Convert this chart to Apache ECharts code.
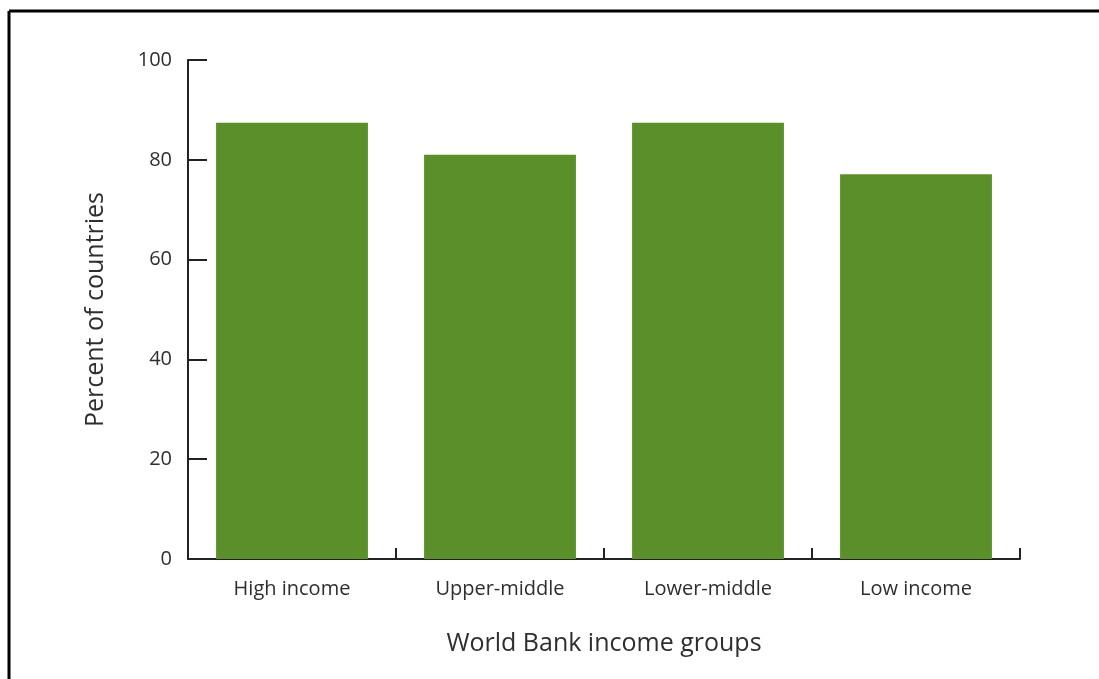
<!DOCTYPE html>
<html>
<head>
<meta charset="utf-8">
<script src="https://cdn.jsdelivr.net/npm/echarts@6/dist/echarts.min.js"></script>
<style>html,body{margin:0;padding:0;background:#fff}#c{width:1099px;height:679px}</style>
</head>
<body>
<div id="c"></div>
<script>
const categories = ["High income", "Upper-middle", "Lower-middle", "Low income"];
const percentValues = [87.4, 81.0, 87.4, 77.1];
const yTicks = [0, 20, 40, 60, 80, 100];

const chart = echarts.init(document.getElementById('c'));
const font = "'Open Sans', Lato, sans-serif";
chart.setOption({
  animation: false,
  backgroundColor: '#fff',
  grid: {left: 188, right: 79, top: 60, bottom: 120, containLabel: false},
  graphic: [
    {type: 'line', shape: {x1: 9, y1: 11, x2: 1099, y2: 11}, style: {stroke: '#000', lineWidth: 3}},
    {type: 'line', shape: {x1: 9, y1: 11, x2: 9, y2: 679}, style: {stroke: '#000', lineWidth: 3}}
  ],
  xAxis: {
    type: 'category',
    data: categories,
    boundaryGap: true,
    name: 'World Bank income groups',
    nameLocation: 'middle',
    nameGap: 72,
    nameTextStyle: {fontFamily: font, fontSize: 25, color: '#2e2e2e'},
    axisLine: {lineStyle: {color: '#222', width: 2}},
    axisTick: {show: true, inside: true, length: 11, alignWithLabel: false, lineStyle: {color: '#222', width: 2}},
    axisLabel: {fontFamily: font, fontSize: 20, color: '#2e2e2e', margin: 20}
  },
  yAxis: {
    type: 'value',
    min: yTicks[0],
    max: yTicks[yTicks.length - 1],
    interval: 20,
    name: 'Percent of countries',
    nameLocation: 'middle',
    nameGap: 80,
    nameTextStyle: {fontFamily: font, fontSize: 25, color: '#2e2e2e'},
    splitLine: {show: false},
    axisLine: {show: true, lineStyle: {color: '#222', width: 2}},
    axisTick: {show: true, inside: true, length: 19, lineStyle: {color: '#222', width: 2}},
    axisLabel: {fontFamily: font, fontSize: 20, color: '#2e2e2e', margin: 16}
  },
  series: [{
    type: 'bar',
    data: percentValues,
    barWidth: '73%',
    itemStyle: {color: '#5b8f29'}
  }]
});
</script>
</body>
</html>
